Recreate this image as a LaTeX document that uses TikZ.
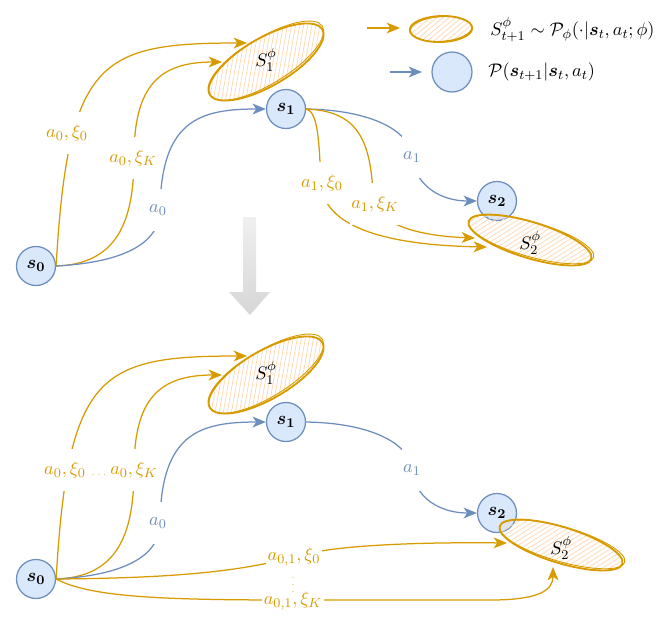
\documentclass[tikz,border=0pt,11pt]{standalone}
\usepackage{amsmath,amssymb,bm}
\usetikzlibrary{arrows.meta,shapes.geometric,patterns.meta,calc}
\definecolor{orng}{HTML}{D79B00}
\definecolor{blu}{HTML}{6C8EBF}
\definecolor{bluf}{HTML}{DAE8FC}
\definecolor{hatchc}{HTML}{FFD8B0}
\begin{document}
\begin{tikzpicture}[x=0.6pt,y=-0.6pt,
  st/.style={circle,draw=blu,fill=bluf,line width=0.75pt,minimum size=23.4pt,inner sep=0pt},
  ell/.style={ellipse,draw=orng,line width=1.1pt,inner sep=0pt,
    pattern={Lines[angle=#1,distance=2.4pt,line width=0.45pt]},pattern color=hatchc},
  sk/.style={draw=orng,line width=0.55pt},
  oedge/.style={draw=orng,line width=0.75pt,-{Stealth[length=8pt,width=6.5pt,inset=2.2pt]}},
  bedge/.style={draw=blu,line width=0.75pt,-{Stealth[length=8pt,width=6.5pt,inset=2.2pt]}},
  olbl/.style={fill=white,text=orng,inner xsep=1pt,inner ysep=0pt,minimum height=25pt},
  blbl/.style={fill=white,text=blu,inner xsep=1pt,inner ysep=0pt,minimum height=25pt},
  olblsm/.style={fill=white,text=orng,inner xsep=1pt,inner ysep=0pt},
  dots/.style={text=orng,inner sep=0pt,font=\fontsize{5}{5}\selectfont},
  lgtext/.style={anchor=west,inner sep=0pt}
]
\useasboundingbox (0,0) rectangle (665,619);

% ---------- legend ----------
\coordinate (la1) at (367,28);
\coordinate (la2) at (400,28);
\coordinate (lb1) at (390,72);
\coordinate (lb2) at (422,72);
\node[ell=40,rotate=2,minimum width=37.5pt,minimum height=15.6pt] (lgE) at (441,29) {};
\draw[sk,rotate around={4:(lgE.center)}] (lgE.center) ellipse [x radius=18.6pt,y radius=7.4pt];
\node[st,minimum size=24pt] (lgC) at (452,72) {};
\draw[oedge] (la1) -- (la2);
\draw[bedge] (lb1) -- (lb2);
\node[lgtext] (lgT1) at (490,30) {$S^{\phi}_{t+1}\sim\mathcal{P}_{\phi}(\cdot|\boldsymbol{s}_t,a_t;\phi)$};
\node[lgtext] (lgT2) at (488,72) {$\mathcal{P}(\boldsymbol{s}_{t+1}|\boldsymbol{s}_t,a_t)$};

% ---------- top diagram ----------
\node[st] (s0) at (36,266) {$\boldsymbol{s_0}$};
\node[st] (s1) at (286,109) {$\boldsymbol{s_1}$};
\node[st] (s2) at (497,201) {$\boldsymbol{s_2}$};
\node[ell=80,rotate=30,minimum width=78pt,minimum height=28.8pt] (S1) at (266,62) {};
\draw[sk,rotate around={31.5:(S1.center)}] ($(S1.center)+(1,-1)$) ellipse [x radius=39.5pt,y radius=13.8pt];
\node (S1t) at (266,60) {$S_1^{\phi}$};
\node[ell=32,rotate=-17,minimum width=77pt,minimum height=21.6pt] (S2) at (530,240) {};
\draw[sk,rotate around={-16:(S2.center)}] ($(S2.center)+(1,-1)$) ellipse [x radius=39pt,y radius=10.4pt];
\node (S2t) at (530,243) {$S_2^{\phi}$};

\coordinate (t1a) at (247,43);
\coordinate (t1b) at (222,62);
\coordinate (t2a) at (487,247);
\coordinate (t2b) at (475,238);

\draw[oedge] (s0.east) .. controls (68,60) and (100,43) .. (t1a);
\draw[oedge] (s0.east) .. controls (115,264) and (134,225) .. (134,157) .. controls (134,85) and (160,62) .. (t1b);
\draw[bedge] (s0.east) .. controls (130,262) and (160,240) .. (160,210) .. controls (161,120) and (200,109) .. (s1.west);
\draw[bedge] (s1.east) .. controls (370,110) and (410,130) .. (412,157) .. controls (415,185) and (440,201) .. (s2.west);
\draw[oedge] (s1.east) .. controls (318,112) and (319,140) .. (321,183) .. controls (323,225) and (380,245) .. (t2a);
\draw[oedge] (s1.east) .. controls (350,111) and (372,130) .. (373,200) .. controls (378,225) and (420,236) .. (t2b);

\node[olbl] (L1) at (67,133) {$a_0,\xi_0$};
\node[olbl] (L2) at (133,158) {$a_0,\xi_K$};
\node[blbl] (L3) at (158,210) {$a_0$};
\node[blbl] (L4) at (412,157) {$a_1$};
\node[olbl] (L5) at (322,183) {$a_1,\xi_0$};
\node[olbl] (L6) at (375,204) {$a_1,\xi_K$};

% ---------- gray arrow ----------
\shade[top color=gray!12,bottom color=gray!32] (243,217) -- (256,217) -- (256,292) -- (270,292) -- (250,315) -- (229,292) -- (243,292) -- cycle;

% ---------- bottom diagram ----------
\node[st] (s0b) at (36,579) {$\boldsymbol{s_0}$};
\node[st] (s1b) at (286,422) {$\boldsymbol{s_1}$};
\node[st] (s2b) at (497,513) {$\boldsymbol{s_2}$};
\node[ell=80,rotate=30,minimum width=78pt,minimum height=28.8pt] (S1b) at (266,375) {};
\draw[sk,rotate around={31.5:(S1b.center)}] ($(S1b.center)+(1,-1)$) ellipse [x radius=39.5pt,y radius=13.8pt];
\node (S1bt) at (266,373) {$S_1^{\phi}$};
\node[ell=32,rotate=-17,minimum width=77pt,minimum height=21.6pt] (S2b) at (561,545) {};
\draw[sk,rotate around={-16:(S2b.center)}] ($(S2b.center)+(1,-1)$) ellipse [x radius=39pt,y radius=10.4pt];
\node (S2bt) at (561,548) {$S_2^{\phi}$};

\coordinate (t3a) at (247,356);
\coordinate (t3b) at (222,375);
\coordinate (t4a) at (507,543);
\coordinate (t4b) at (553,567);

\draw[oedge] (s0b.east) .. controls (68,373) and (100,356) .. (t3a);
\draw[oedge] (s0b.east) .. controls (115,577) and (134,538) .. (134,470) .. controls (134,398) and (160,375) .. (t3b);
\draw[bedge] (s0b.east) .. controls (130,575) and (160,553) .. (160,523) .. controls (161,433) and (200,422) .. (s1b.west);
\draw[bedge] (s1b.east) .. controls (370,423) and (410,443) .. (412,470) .. controls (415,498) and (440,513) .. (s2b.west);
\draw[oedge] (s0b.east) .. controls (180,578) and (240,571) .. (294,557) .. controls (330,545) and (420,542) .. (t4a);
\draw[oedge] (s0b.east) .. controls (90,597) and (160,600) .. (293,600) -- (490,600) .. controls (540,600) and (553,590) .. (t4b);

\node[olbl] (L7) at (65,470) {$a_0,\xi_0$};
\node[dots] (D1) at (99,475) {$\ldots$};
\node[olbl] (L8) at (134,470) {$a_0,\xi_K$};
\node[blbl] (L9) at (158,523) {$a_0$};
\node[blbl] (L10) at (412,470) {$a_1$};
\node[olblsm] (L11) at (294,557) {$a_{0,1},\xi_0$};
\node[dots] (D2) at (293,580) {$\vdots$};
\node[olblsm] (L12) at (293,601) {$a_{0,1},\xi_K$};
\end{tikzpicture}
\end{document}
